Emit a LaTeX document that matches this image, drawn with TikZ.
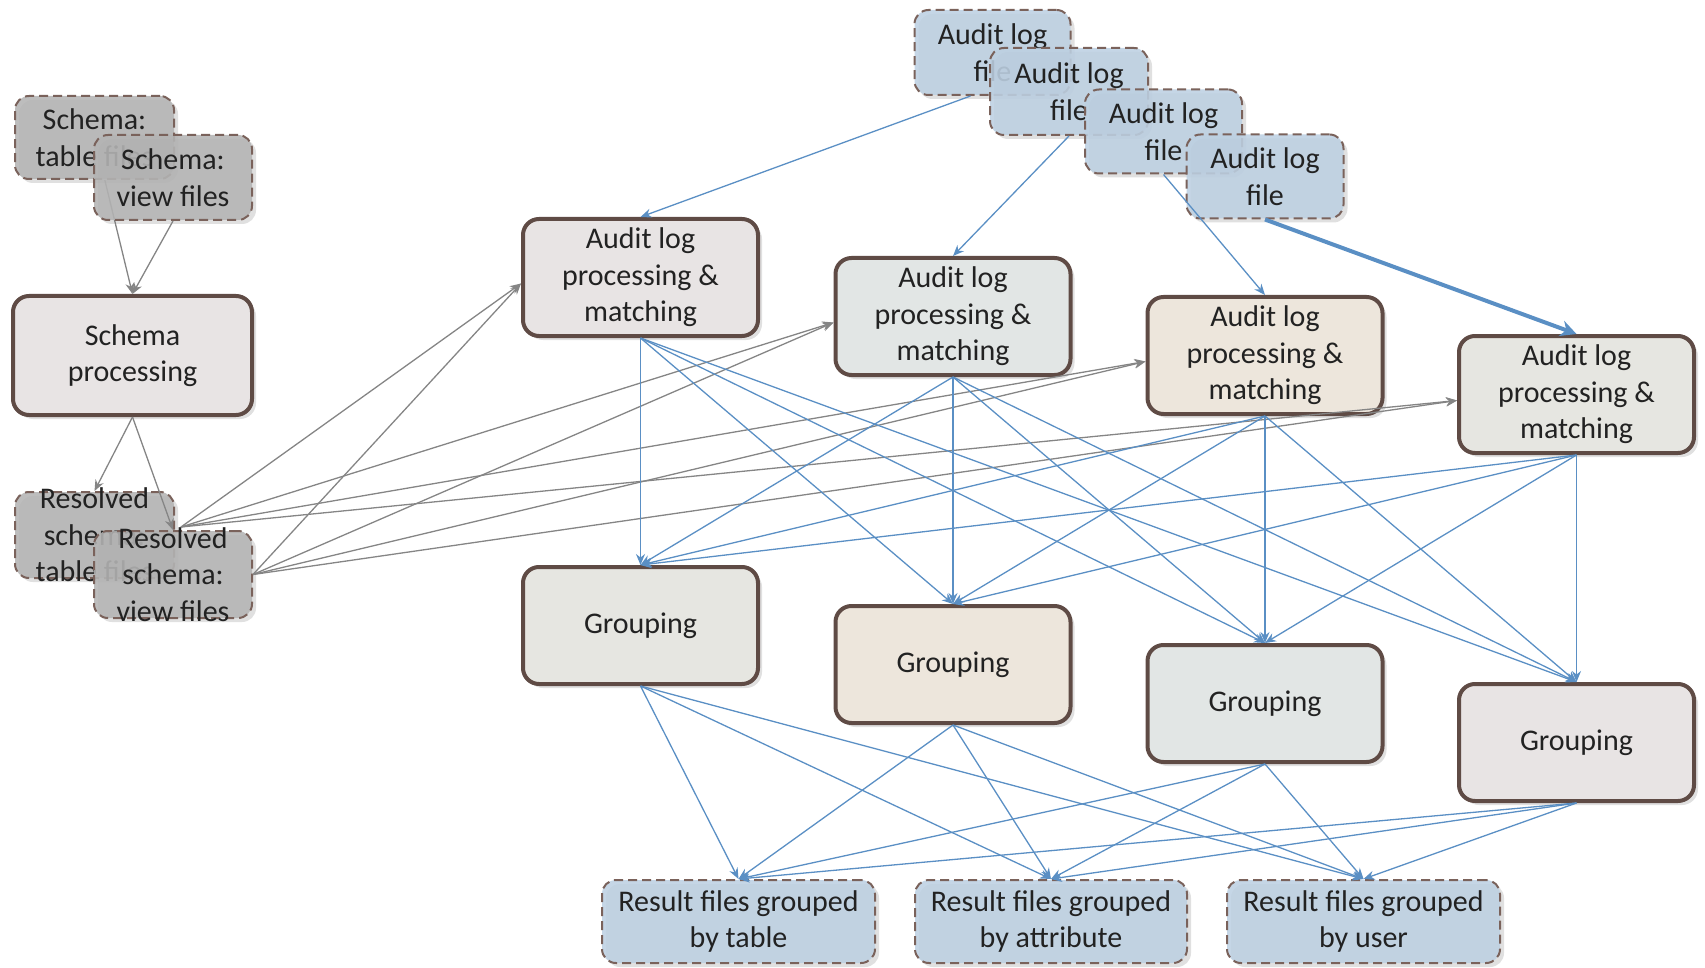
\documentclass[tikz,border=0pt]{standalone}
\usepackage{fontspec}
\setmainfont{Carlito}
\usetikzlibrary{arrows.meta,shadows,backgrounds}
\definecolor{brd}{HTML}{5F4B45}
\definecolor{dbrd}{HTML}{7A625B}
\definecolor{txtc}{HTML}{222222}
\definecolor{fblue}{HTML}{BDD0E2}
\definecolor{gfill}{HTML}{B4B4B4}
\definecolor{bline}{HTML}{5A8FC4}
\definecolor{gline}{HTML}{858585}
\definecolor{cA}{HTML}{E8E4E4}
\definecolor{cB}{HTML}{E2E6E5}
\definecolor{cC}{HTML}{EDE6DC}
\definecolor{cD}{HTML}{E6E6E1}
\newcommand\dfont{\fontsize{30}{36.5}\selectfont}
\begin{document}
\begin{tikzpicture}[x=1pt,y=-1pt,
  shd/.style={drop shadow={shadow xshift=4pt,shadow yshift=-4pt,opacity=0.2,fill=black!60}},
  proc/.style={shd,draw=brd,line width=4pt,rounded corners=16pt,minimum width=235pt,minimum height=117pt,
    align=center,font=\dfont,text=txtc,inner sep=0pt},
  spbox/.style={proc,minimum width=239pt,minimum height=119pt},
  dfile/.style={shd,draw=dbrd,line width=2pt,dash pattern=on 9pt off 5pt,rounded corners=14pt,
    align=center,font=\dfont,text=txtc,inner sep=0pt},
  bfile/.style={dfile,fill=fblue,fill opacity=0.88,text opacity=1},
  gfile/.style={dfile,fill=gfill,fill opacity=0.88,text opacity=1},
  txt/.style={align=center,font=\dfont,text=txtc,inner sep=0pt},
  bedge/.style={draw=bline,line width=1.3pt,-{Stealth[length=11pt,width=9pt]}},
  bthick/.style={draw=bline,line width=4pt,-{Stealth[length=16pt,width=16pt]}},
  gedge/.style={draw=gline,line width=1.3pt,-{Stealth[length=11pt,width=9pt]}}
]
\useasboundingbox (0,0) rectangle (1705,968);

% schema files
\node[gfile,minimum width=159pt,minimum height=83pt] (ST) at (94.5,137.5) {Schema:\\table files};
\node[gfile,minimum width=158pt,minimum height=85pt] (SV) at (173,177.5) {Schema:\\view files};
\node[spbox,fill=cA] (SP) at (132.5,355.5) {Schema\\processing};
\node[gfile,minimum width=159pt,minimum height=86pt] (RT) at (94.5,535) {};
\node[txt] (RTt) at (RT.center) {Resolved\\schema:\\table files};
\node[gfile,minimum width=158pt,minimum height=87pt] (RV) at (173,574.5) {};
\node[txt] (RVt) at (RV.center) {Resolved\\schema:\\view files};

% audit log files
\node[bfile,minimum width=156pt,minimum height=85pt] (AF1) at (992.5,52.5) {Audit log\\file};
\node[bfile,minimum width=158pt,minimum height=87pt] (AF2) at (1069,91.5) {Audit log\\file};
\node[bfile,minimum width=157pt,minimum height=84pt] (AF3) at (1163.5,131.5) {Audit log\\file};
\node[bfile,minimum width=157pt,minimum height=84pt] (AF4) at (1265,176.5) {Audit log\\file};

% processing
\node[proc,fill=cA] (AP1) at (640.5,277.5) {Audit log\\processing \&\\matching};
\node[proc,fill=cB] (AP2) at (953,316.5) {Audit log\\processing \&\\matching};
\node[proc,fill=cC] (AP3) at (1265,355.5) {Audit log\\processing \&\\matching};
\node[proc,fill=cD] (AP4) at (1576.5,394.5) {Audit log\\processing \&\\matching};

% grouping
\node[proc,fill=cD] (G1) at (640.5,625.5) {Grouping};
\node[proc,fill=cC] (G2) at (953,664.5) {Grouping};
\node[proc,fill=cB] (G3) at (1265,703.5) {Grouping};
\node[proc,fill=cA] (G4) at (1576.5,742.5) {Grouping};

% results
\node[bfile,minimum width=273pt,minimum height=83pt] (R1) at (738.5,921.5) {Result files grouped\\by table};
\node[bfile,minimum width=272pt,minimum height=83pt] (R2) at (1051,921.5) {Result files grouped\\by attribute};
\node[bfile,minimum width=273pt,minimum height=83pt] (R3) at (1363.5,921.5) {Result files grouped\\by user};

% gray connectors
\begin{scope}[on background layer]
\draw[gedge] (ST) -- (SP.north);
\end{scope}
\draw[gedge] (SV.south) -- (SP.north);
\draw[gedge] (SP.south) -- (RT.north);
\draw[gedge] (SP.south) -- (RV.north);
\foreach \a in {AP1,AP2,AP3,AP4}{
  \draw[gedge] ([xshift=6pt,yshift=8pt]RT.east) -- ([yshift=-6pt]\a.west);
  \draw[gedge] (RV.east) -- ([yshift=-6pt]\a.west);
}

% blue connectors
\draw[bedge] ([xshift=-22pt]AF1.south) -- (AP1.north);
\draw[bedge] (AF2.south) -- (AP2.north);
\draw[bedge] (AF3.south) -- (AP3.north);
\draw[bthick] (AF4.south) -- (AP4.north);
\foreach \a in {AP1,AP2,AP3,AP4}{
  \foreach \g in {G1,G2,G3,G4}{
    \draw[bedge] (\a.south) -- (\g.north);
  }
}
\foreach \g in {G1,G2,G3,G4}{
  \foreach \r in {R1,R2,R3}{
    \draw[bedge] (\g.south) -- (\r.north);
  }
}
\end{tikzpicture}
\end{document}
